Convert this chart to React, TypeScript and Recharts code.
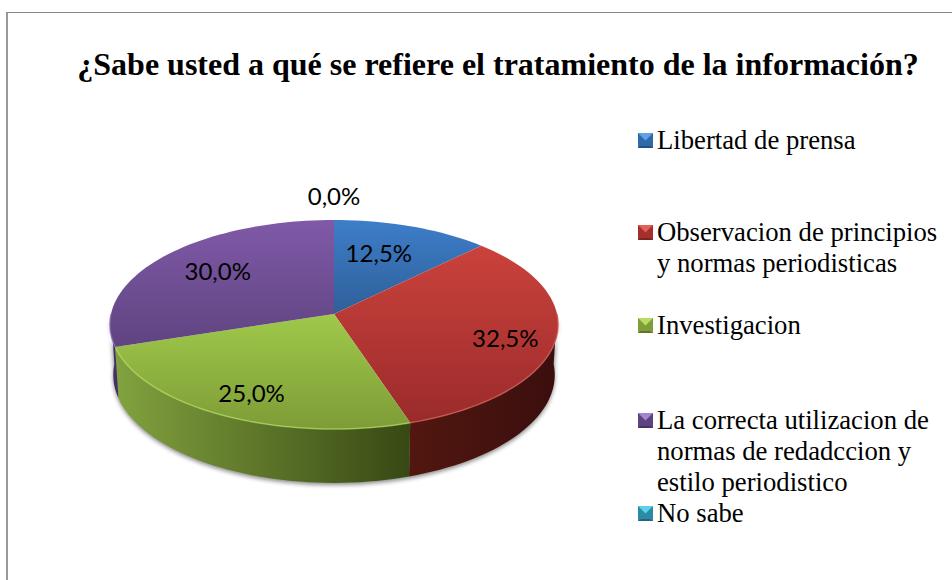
import React from "react"
import { Legend, Pie, PieChart } from "recharts"

const categories = [
  "Libertad de prensa",
  "Observacion de principios\ny normas periodisticas",
  "Investigacion",
  "La correcta utilizacion de\nnormas de redadccion y\nestilo periodistico",
  "No sabe",
]
const percentages = [12.5, 32.5, 25, 30, 0]

const topColors = [
  ["#3d7eca", "#2f5f98"],
  ["#cb423c", "#9a2b2b"],
  ["#9fc94a", "#7e9c37"],
  ["#8059a8", "#5f4480"],
  ["#3fb0cc", "#2a7f96"],
]
const wallColors = [
  ["#1f3f66", "#1f3f66"],
  ["#52170f", "#3a0e0e"],
  ["#82a23e", "#374814"],
  ["#4f3870", "#3f2c5c"],
  ["#1f6070", "#1f6070"],
]
const rimColors = ["#5b94d6", "#d9635c", "#b4dc62", "#9876bd", "#5cc4dc"]
const markerColors = ["#2f6aa8", "#a52f2c", "#7f9e38", "#5e4282", "#2b8aa5"]
const markerLight = ["#5fa2e6", "#e0605a", "#b9dc66", "#a585d0", "#5fd0ea"]
const legendTops = [125, 217, 310, 405, 498]
const labelRadius = [0.67, 0.78, 0.81, 0.67, 1.28]
const labelNudgeX = [-9, -1, 6, 0, 0]
const labelNudgeY = [-1, 4, -2, -4, -1]

const chartData = categories.map((name, i) => ({ name, value: percentages[i] }))

// perspective of the tilted disc
const TILT_Y = 0.464
const TILT_P = 0.1005
const DEPTH = 50
const BOTTOM_SHRINK = 0.985

const project = (cx: number, cy: number, r: number, clockDeg: number, frac = 1) => {
  const rad = (clockDeg * Math.PI) / 180
  const u = Math.sin(rad) * frac
  const v = Math.cos(rad) * frac
  const w = 1 + TILT_P * v
  return { x: cx + (r * u) / w, y: cy - (r * TILT_Y * v) / w, w }
}

const arcPoints = (cx: number, cy: number, r: number, from: number, to: number, drop = 0) => {
  const steps = Math.max(2, Math.ceil(Math.abs(to - from) / 2))
  const pts: string[] = []
  for (let i = 0; i <= steps; i++) {
    const p = project(cx, cy, drop ? r * BOTTOM_SHRINK : r, from + ((to - from) * i) / steps)
    pts.push(`${p.x.toFixed(2)},${(p.y + (drop ? drop / p.w : 0)).toFixed(2)}`)
  }
  return pts
}

const DiscSlice = (props: any) => {
  const { cx, cy, outerRadius, startAngle, endAngle, index } = props
  const from = 90 - startAngle
  const to = 90 - endAngle
  const shadow =
    index === 0 ? (
      <polygon
        points={[...arcPoints(cx, cy, outerRadius, 92, 268, DEPTH + 2), ...arcPoints(cx, cy, outerRadius, 268, 92)].join(" ")}
        fill="#000"
        opacity={0.45}
        filter="url(#pieShadow)"
      />
    ) : null
  if (to - from <= 0) return shadow
  const wallFrom = Math.max(from, 90)
  const wallTo = Math.min(to, 270)
  const hasWall = wallTo > wallFrom
  return (
    <g>
      {shadow}
      {hasWall && (
        <polygon
          points={[
            ...arcPoints(cx, cy, outerRadius, wallFrom, wallTo),
            ...arcPoints(cx, cy, outerRadius, wallTo, wallFrom, DEPTH),
          ].join(" ")}
          fill={`url(#wall${index})`}
        />
      )}
      <polygon
        points={[...arcPoints(cx, cy, outerRadius, from, to), `${cx},${cy}`].join(" ")}
        fill={`url(#top${index})`}
      />
      {hasWall && (
        <polyline
          points={arcPoints(cx, cy, outerRadius, wallFrom, wallTo).join(" ")}
          fill="none"
          stroke={rimColors[index]}
          strokeWidth={1.5}
          opacity={0.7}
        />
      )}
    </g>
  )
}

const sliceLabel = (props: any) => {
  const { cx, cy, outerRadius, midAngle, index, value } = props
  const p = project(cx, cy, outerRadius, 90 - midAngle, labelRadius[index])
  return (
    <text
      x={p.x + labelNudgeX[index]}
      y={p.y + labelNudgeY[index]}
      textAnchor="middle"
      dominantBaseline="central"
      fontFamily="Lato"
      fontSize={24}
      fill="#000"
    >
      {`${value.toFixed(1).replace(".", ",")}%`}
    </text>
  )
}

const LegendMarker = ({ index }: { index: number }) => (
  <svg width={15} height={15} style={{ position: "absolute", left: 0, top: 8 }}>
    <rect width={15} height={15} fill={markerColors[index]} />
    <polygon points="0,0 15,0 7.5,7.5" fill={markerLight[index]} />
    <polygon points="3,13 12,13 15,15 0,15" fill="#000" opacity={0.25} />
  </svg>
)

const ChartLegend = () => (
  <div style={{ position: "relative", width: 314, height: 580 }}>
    {categories.map((name, i) => (
      <div key={name} style={{ position: "absolute", left: 0, top: legendTops[i], paddingLeft: 19 }}>
        <LegendMarker index={i} />
        <div
          style={{
            fontFamily: "'Liberation Serif'",
            fontSize: 26.7,
            lineHeight: "31px",
            whiteSpace: "pre",
            color: "#000",
          }}
        >
          {name}
        </div>
      </div>
    ))}
  </div>
)

export default function App() {
  return (
    <div style={{ position: "absolute", left: 0, top: 0, width: 952, height: 580, overflow: "hidden", background: "#fff" }}>
      <div
        style={{
          position: "absolute",
          left: 6,
          top: 12,
          width: 946,
          height: 568,
          borderLeft: "2px solid #999",
          borderTop: "1px solid #888",
          boxSizing: "border-box",
        }}
      />
      <div
        style={{
          position: "absolute",
          left: 0,
          top: 44,
          width: 996,
          textAlign: "center",
          fontFamily: "'Liberation Serif'",
          fontWeight: "bold",
          fontSize: 32,
          lineHeight: "40px",
          color: "#000",
        }}
      >
        ¿Sabe usted a qué se refiere el tratamiento de la información?
      </div>
      <PieChart width={952} height={580} margin={{ top: 0, right: 0, bottom: 0, left: 0 }} style={{ position: "absolute", left: 0, top: 0 }}>
        <defs>
          <filter id="pieShadow" x="-10%" y="-10%" width="120%" height="120%">
            <feGaussianBlur stdDeviation="2" />
          </filter>
          {topColors.map((c, i) => (
            <linearGradient key={i} id={`top${i}`} x1="0" y1="0" x2="0" y2="1">
              <stop offset="0" stopColor={c[0]} />
              <stop offset="1" stopColor={c[1]} />
            </linearGradient>
          ))}
          {wallColors.map((c, i) => (
            <linearGradient key={i} id={`wall${i}`} x1="0" y1="0" x2="1" y2="0">
              <stop offset="0" stopColor={c[0]} />
              <stop offset="1" stopColor={c[1]} />
            </linearGradient>
          ))}
        </defs>
        <Pie
          data={chartData}
          dataKey="value"
          nameKey="name"
          cx={334}
          cy={314}
          outerRadius={223}
          startAngle={90}
          endAngle={-270}
          stroke="none"
          shape={DiscSlice}
          label={sliceLabel}
          labelLine={false}
          isAnimationActive={false}
        />
        <Legend
          content={<ChartLegend />}
          wrapperStyle={{ position: "absolute", left: 638, top: 0, width: 314, height: 580 }}
        />
      </PieChart>
    </div>
  )
}
